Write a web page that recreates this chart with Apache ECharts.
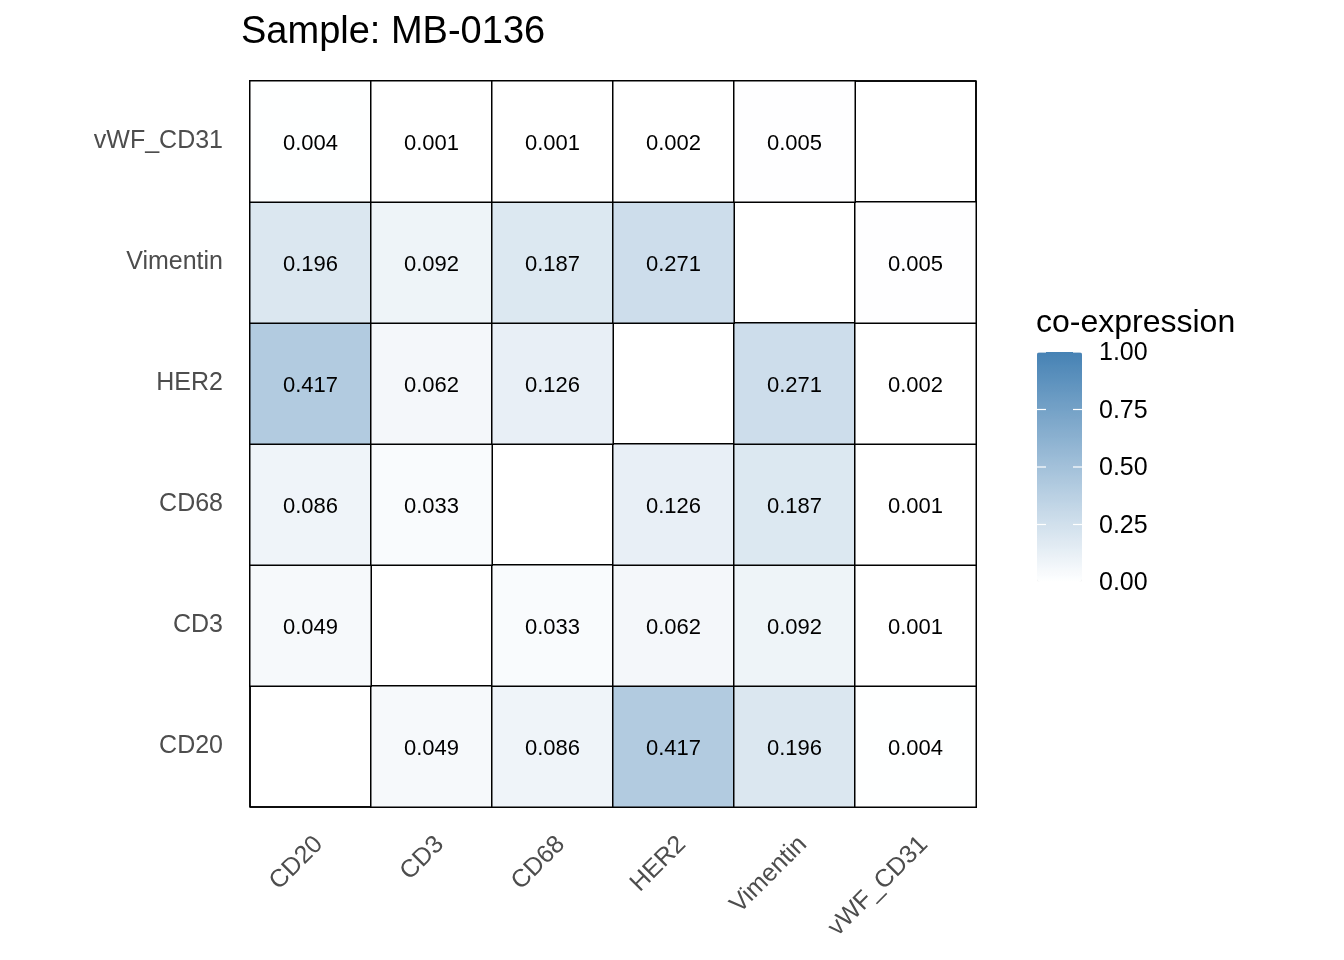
<!DOCTYPE html>
<html>
<head>
<meta charset="utf-8">
<script src="https://cdn.jsdelivr.net/npm/echarts@6/dist/echarts.min.js"></script>
<style>html,body{margin:0;padding:0;background:#fff}#c{width:1344px;height:960px}</style>
</head>
<body>
<div id="c"></div>
<script>
const markers = ['CD20', 'CD3', 'CD68', 'HER2', 'Vimentin', 'vWF_CD31'];
// rows listed bottom-to-top (y categories), columns left-to-right (x categories)
const rowCD20    = [null, 0.049, 0.086, 0.417, 0.196, 0.004];
const rowCD3     = [0.049, null, 0.033, 0.062, 0.092, 0.001];
const rowCD68    = [0.086, 0.033, null, 0.126, 0.187, 0.001];
const rowHER2    = [0.417, 0.062, 0.126, null, 0.271, 0.002];
const rowVimentin= [0.196, 0.092, 0.187, 0.271, null, 0.005];
const rowVWF     = [0.004, 0.001, 0.001, 0.002, 0.005, null];
const legendTicks = ['0.00', '0.25', '0.50', '0.75', '1.00'];

const rows = [rowCD20, rowCD3, rowCD68, rowHER2, rowVimentin, rowVWF];
const data = [];
rows.forEach((r, yi) => r.forEach((v, xi) => {
  data.push([xi, yi, v === null ? '-' : v]);
}));

const chart = echarts.init(document.getElementById('c'));
const FONT = 'Liberation Sans, Arial, sans-serif';
const barLeft = 1037, barTop = 352, barW = 45, barH = 230;
const graphics = [
  {type: 'text', left: 1036, top: 307, style: {text: 'co-expression', font: '32px ' + FONT, fill: '#000'}}
];
legendTicks.forEach((t, i) => {
  const y = barTop + barH - barH * i / (legendTicks.length - 1);
  graphics.push({type: 'text', left: 1099, top: y - 11, style: {text: t, font: '25px ' + FONT, fill: '#000'}});
  graphics.push({type: 'line', shape: {x1: barLeft, y1: y, x2: barLeft + 9, y2: y}, style: {stroke: '#fff', lineWidth: 1.2}, z: 100});
  graphics.push({type: 'line', shape: {x1: barLeft + barW - 9, y1: y, x2: barLeft + barW, y2: y}, style: {stroke: '#fff', lineWidth: 1.2}, z: 100});
});

chart.setOption({
  backgroundColor: '#fff',
  animation: false,
  title: {
    text: 'Sample: MB-0136', left: 236, top: 9,
    textStyle: {fontFamily: FONT, fontSize: 38, fontWeight: 'normal', color: '#000'}
  },
  grid: {left: 250, top: 81, width: 726, height: 726, show: true, borderColor: '#000', borderWidth: 1.5, backgroundColor: 'transparent'},
  xAxis: {
    type: 'category', data: markers,
    axisLine: {show: false}, axisTick: {show: false},
    splitLine: {show: true, lineStyle: {color: '#000', width: 1.5}},
    axisLabel: {rotate: 45, margin: 25, fontFamily: FONT, fontSize: 25, color: '#4D4D4D', interval: 0,
                verticalAlign: 'top', lineHeight: 24}
  },
  yAxis: {
    type: 'category', data: markers,
    axisLine: {show: false}, axisTick: {show: false},
    splitLine: {show: true, lineStyle: {color: '#000', width: 1.5}},
    axisLabel: {margin: 27, fontFamily: FONT, fontSize: 25, color: '#4D4D4D', interval: 0, padding: [6, 0, 0, 0]}
  },
  visualMap: {
    type: 'continuous', min: 0, max: 1, calculable: false, orient: 'vertical',
    left: barLeft, top: barTop, itemWidth: barW, itemHeight: barH, padding: 0,
    text: null, showLabel: false, realtime: false, hoverLink: false,
    inRange: {color: ['#FFFFFF', '#4682B4']},
    textStyle: {color: 'transparent'}
  },
  graphic: graphics,
  series: [{
    type: 'heatmap', data: data,
    itemStyle: {borderColor: '#000', borderWidth: 1.5},
    label: {
      show: true, fontFamily: FONT, fontSize: 22, color: '#000', offset: [0, 2],
      formatter: p => (typeof p.value[2] === 'number' ? p.value[2].toFixed(3) : '')
    },
    emphasis: {disabled: true}
  }]
});
</script>
</body>
</html>
